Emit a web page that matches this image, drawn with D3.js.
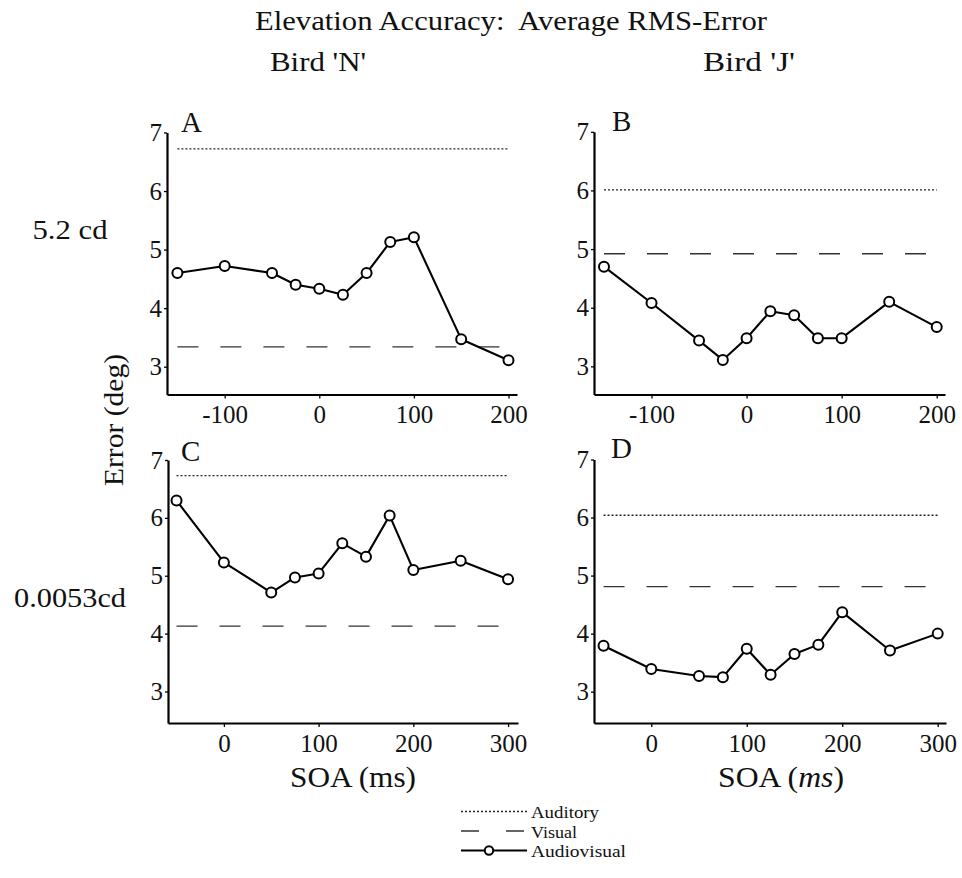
<!DOCTYPE html>
<html>
<head>
<meta charset="utf-8">
<script src="https://cdn.jsdelivr.net/npm/d3@7"></script>
<style>
  body { margin: 0; background: #fff; }
  svg { display: block; }
  text { font-family: "Liberation Serif", "Times New Roman", serif; fill: #111; }
</style>
</head>
<body>
<svg id="chart" width="962" height="878"></svg>
<script>
// ---------------- data ----------------
const soaTop    = [-150, -100, -50, -25, 0, 25, 50, 75, 100, 150, 200];
const soaBottom = [-50, 0, 50, 75, 100, 125, 150, 175, 200, 250, 300];

const audiovisualA = [4.60, 4.72, 4.60, 4.40, 4.33, 4.23, 4.60, 5.13, 5.21, 3.47, 3.11];
const audiovisualB = [4.70, 4.08, 3.44, 3.11, 3.48, 3.94, 3.87, 3.48, 3.48, 4.10, 3.67];
const audiovisualC = [6.30, 5.23, 4.71, 4.97, 5.04, 5.56, 5.33, 6.04, 5.10, 5.26, 4.94];
const audiovisualD = [3.79, 3.39, 3.27, 3.25, 3.74, 3.29, 3.65, 3.81, 4.37, 3.71, 4.00];

const auditoryLevels = [6.72, 6.01, 6.73, 6.04];   // A, B, C, D
const visualLevels   = [3.34, 4.92, 4.13, 4.81];   // A, B, C, D

const panelLetters = ["A", "B", "C", "D"];
const yTickValues = [3, 4, 5, 6, 7];
const xTicksTop = [-100, 0, 100, 200];
const xTicksBottom = [0, 100, 200, 300];

const titleText = "Elevation Accuracy:  Average RMS-Error";
const columnLabels = ["Bird 'N'", "Bird 'J'"];
const rowLabels = ["5.2 cd", "0.0053cd"];
const yAxisLabel = "Error (deg)";
const legendLabels = ["Auditory", "Visual", "Audiovisual"];

// ---------------- layout ----------------
const svg = d3.select("#chart");
const FONT_TICK = 25;

const layout = [
  { x0: 167, x1: 517, yTop: 132.5, yBot: 394.5, xDom: [-161, 209],  yDom: [2.525, 7], letter: [181, 132] },
  { x0: 594, x1: 945, yTop: 131.8, yBot: 394.5, xDom: [-160.5, 208.7], yDom: [2.52, 7], letter: [612, 131] },
  { x0: 168, x1: 518, yTop: 460,   yBot: 723,   xDom: [-59, 310.5],  yDom: [2.455, 7], letter: [181, 461] },
  { x0: 594, x1: 946, yTop: 459.5, yBot: 723,   xDom: [-60, 308.7],  yDom: [2.46, 7], letter: [611, 458] }
];

const panels = [
  { soa: soaTop,    av: audiovisualA, xTicks: xTicksTop },
  { soa: soaTop,    av: audiovisualB, xTicks: xTicksTop },
  { soa: soaBottom, av: audiovisualC, xTicks: xTicksBottom },
  { soa: soaBottom, av: audiovisualD, xTicks: xTicksBottom }
];

const DOT = "2,2";
const DASH = "21,22";

panels.forEach((p, i) => {
  const L = layout[i];
  const x = d3.scaleLinear().domain(L.xDom).range([L.x0, L.x1]);
  const y = d3.scaleLinear().domain(L.yDom).range([L.yBot, L.yTop]);
  const g = svg.append("g");

  // reference lines
  const xs = p.soa[0], xe = p.soa[p.soa.length - 1];
  g.append("line")
    .attr("x1", x(xs)).attr("x2", x(xe))
    .attr("y1", y(auditoryLevels[i])).attr("y2", y(auditoryLevels[i]))
    .attr("stroke", "#222").attr("stroke-width", 1.4).attr("stroke-dasharray", DOT);
  g.append("line")
    .attr("x1", x(xs)).attr("x2", x(xe))
    .attr("y1", y(visualLevels[i])).attr("y2", y(visualLevels[i]))
    .attr("stroke", "#333").attr("stroke-width", 1.3).attr("stroke-dasharray", DASH);

  // axes
  const yAxis = d3.axisLeft(y).tickValues(yTickValues).tickSize(3).tickSizeOuter(0).tickPadding(2)
    .tickFormat(d3.format("d"));
  const gy = g.append("g").attr("transform", `translate(${L.x0},0)`).call(yAxis);
  const xAxis = d3.axisBottom(x).tickValues(p.xTicks).tickSize(4).tickSizeOuter(0).tickPadding(7)
    .tickFormat(d => String(d));
  const gx = g.append("g").attr("transform", `translate(0,${L.yBot})`).call(xAxis);
  [gx, gy].forEach(a => {
    a.select(".domain").attr("stroke", "#000").attr("stroke-width", 2.2);
    a.selectAll(".tick line").attr("stroke", "#000").attr("stroke-width", 1.3);
    a.selectAll(".tick text")
      .attr("fill", "#111")
      .style("font-family", '"Liberation Serif", "Times New Roman", serif')
      .style("font-size", FONT_TICK + "px");
  });

  // audiovisual line and markers
  const pts = p.soa.map((s, k) => [s, p.av[k]]);
  const line = d3.line().x(d => x(d[0])).y(d => y(d[1]));
  g.append("path").datum(pts).attr("d", line)
    .attr("fill", "none").attr("stroke", "#000").attr("stroke-width", 2.1)
    .attr("stroke-linejoin", "round");
  g.selectAll("circle.m").data(pts).enter().append("circle")
    .attr("class", "m")
    .attr("cx", d => x(d[0])).attr("cy", d => y(d[1]))
    .attr("r", 5).attr("fill", "#fff").attr("stroke", "#000").attr("stroke-width", 2);

  // panel letter
  g.append("text").attr("x", L.letter[0]).attr("y", L.letter[1])
    .style("font-size", "29px").text(panelLetters[i]);
});

// ---------------- titles & labels ----------------
svg.append("text").attr("x", 511).attr("y", 30).attr("text-anchor", "middle")
  .style("font-size", "27px").style("white-space", "pre").attr("xml:space", "preserve")
  .attr("textLength", 512).attr("lengthAdjust", "spacingAndGlyphs")
  .text(titleText);

svg.append("text").attr("x", 318).attr("y", 71).attr("text-anchor", "middle")
  .style("font-size", "27px").attr("textLength", 96).attr("lengthAdjust", "spacingAndGlyphs")
  .text(columnLabels[0]);
svg.append("text").attr("x", 749).attr("y", 71).attr("text-anchor", "middle")
  .style("font-size", "27px").attr("textLength", 92).attr("lengthAdjust", "spacingAndGlyphs")
  .text(columnLabels[1]);

svg.append("text").attr("x", 70).attr("y", 239).attr("text-anchor", "middle")
  .style("font-size", "27px").attr("textLength", 75).attr("lengthAdjust", "spacingAndGlyphs")
  .text(rowLabels[0]);
svg.append("text").attr("x", 70).attr("y", 607).attr("text-anchor", "middle")
  .style("font-size", "27px").attr("textLength", 112).attr("lengthAdjust", "spacingAndGlyphs")
  .text(rowLabels[1]);

svg.append("text").attr("transform", "translate(123,420) rotate(-90)").attr("text-anchor", "middle")
  .style("font-size", "27px").attr("textLength", 132).attr("lengthAdjust", "spacingAndGlyphs")
  .text(yAxisLabel);

// SOA labels
const soaC = svg.append("text").attr("x", 353).attr("y", 787).attr("text-anchor", "middle")
  .style("font-size", "29px").attr("textLength", 126).attr("lengthAdjust", "spacingAndGlyphs");
soaC.text("SOA (ms)");
const soaD = svg.append("text").attr("x", 781).attr("y", 787).attr("text-anchor", "middle")
  .style("font-size", "29px").attr("textLength", 126).attr("lengthAdjust", "spacingAndGlyphs");
soaD.append("tspan").text("SOA (");
soaD.append("tspan").style("font-style", "italic").text("ms");
soaD.append("tspan").text(")");

// ---------------- legend ----------------
const leg = svg.append("g");
const legY = [811.5, 831, 850.5];
const legW = [68, 46, 95];
const lx0 = 461, lx1 = 527;
leg.append("line").attr("x1", lx0).attr("x2", lx1).attr("y1", legY[0]).attr("y2", legY[0])
  .attr("stroke", "#222").attr("stroke-width", 1.4).attr("stroke-dasharray", DOT);
leg.append("line").attr("x1", lx0).attr("x2", lx1).attr("y1", legY[1]).attr("y2", legY[1])
  .attr("stroke", "#333").attr("stroke-width", 1.3).attr("stroke-dasharray", "18,27");
leg.append("line").attr("x1", lx0).attr("x2", lx1).attr("y1", legY[2]).attr("y2", legY[2])
  .attr("stroke", "#000").attr("stroke-width", 2);
leg.append("circle").attr("cx", 489).attr("cy", legY[2]).attr("r", 4.2)
  .attr("fill", "#fff").attr("stroke", "#000").attr("stroke-width", 2);
legendLabels.forEach((t, k) => {
  leg.append("text").attr("x", 531).attr("y", legY[k] + 6.5)
    .style("font-size", "17.5px")
    .attr("textLength", legW[k]).attr("lengthAdjust", "spacingAndGlyphs")
    .text(t);
});
</script>
</body>
</html>
